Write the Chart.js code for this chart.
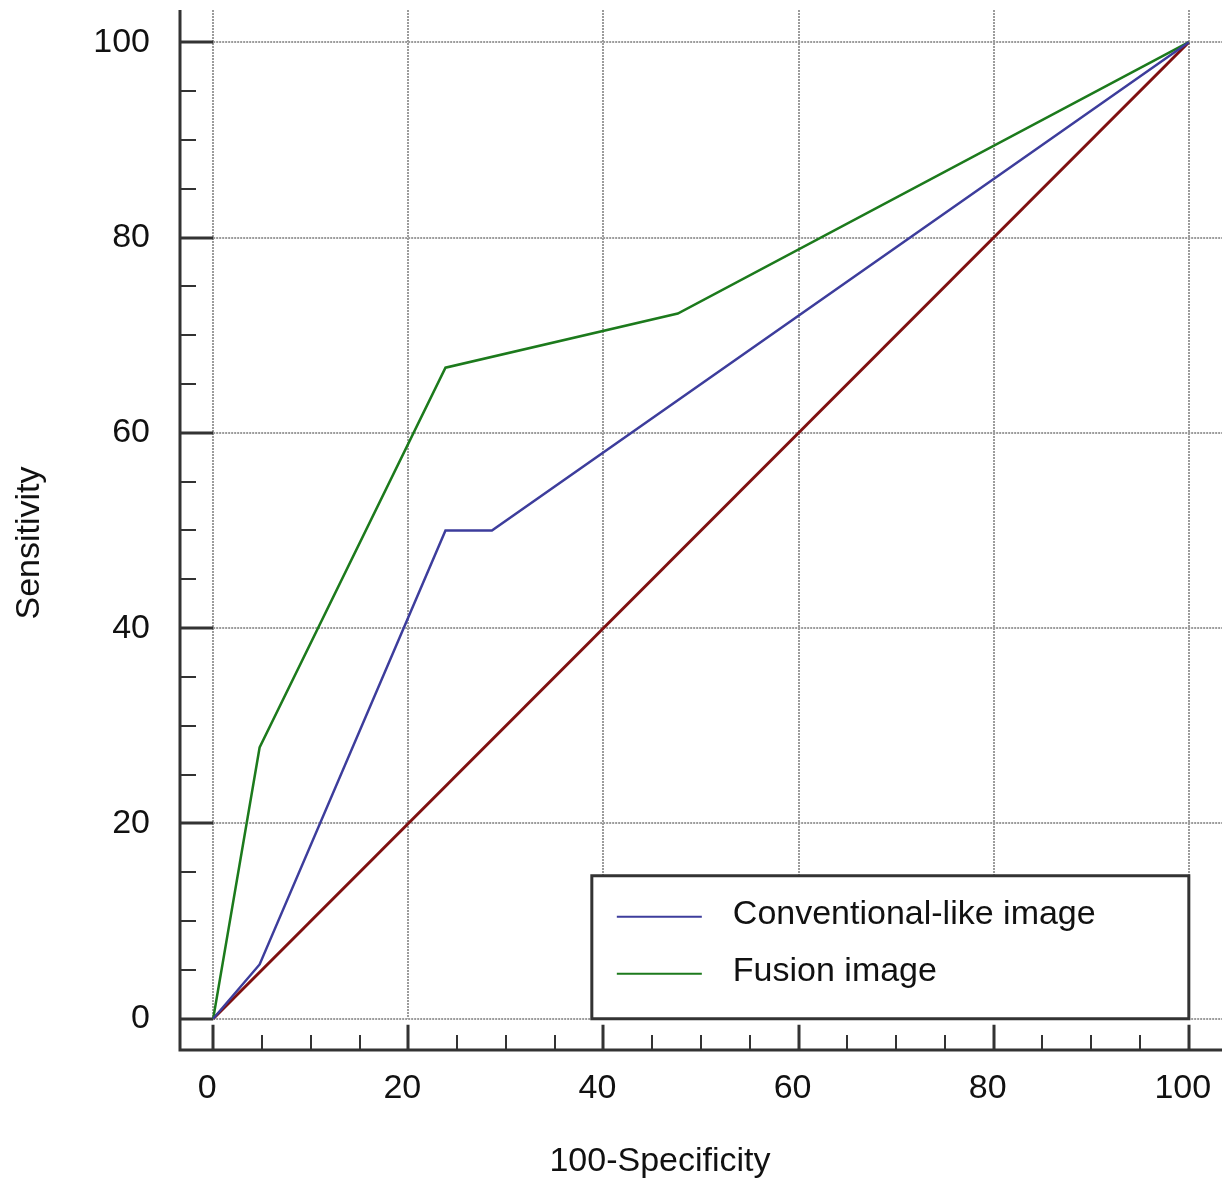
<!DOCTYPE html>
<html>
<head>
<meta charset="utf-8">
<script src="https://cdn.jsdelivr.net/npm/chart.js@4.4.1/dist/chart.umd.min.js"></script>
<style>
	body { margin: 0; background: #ffffff; }
	canvas { display: block; }
</style>
</head>
<body>
<canvas id="rocChart" width="1230" height="1179"></canvas>
<script>
// ROC points (21 negatives, 18 positives)
const conventionalX = [0, 4.76, 23.81, 28.57, 100];
const conventionalY = [0, 5.56, 50, 50, 100];
const fusionX = [0, 4.76, 23.81, 47.62, 100];
const fusionY = [0, 27.78, 66.67, 72.22, 100];
const referenceX = [0, 100];
const referenceY = [0, 100];
const tickValues = [0, 20, 40, 60, 80, 100];
const seriesLabels = ['Conventional-like image', 'Fusion image'];
const xTitle = '100-Specificity';
const yTitle = 'Sensitivity';

const FONT = "'Liberation Sans', Arial, Helvetica, sans-serif";

function toPoints(xs, ys) {
	return xs.map((x, i) => ({ x: x, y: ys[i] }));
}

// keep the plot area exactly where the original has it
function fixAxis(size) {
	return s => {
		if (s.isHorizontal()) {
			s.height = size;
		} else {
			s.width = size;
		}
		s.paddingTop = 0;
		s.paddingBottom = 0;
		s.paddingLeft = 0;
		s.paddingRight = 0;
	};
}

const rocAxesPlugin = {
	id: 'rocAxes',
	beforeDatasetsDraw(chart) {
		const ctx = chart.ctx;
		const xs = chart.scales.x;
		const ys = chart.scales.y;
		const area = chart.chartArea;
		const x0 = xs.getPixelForValue(0);
		const y0 = ys.getPixelForValue(0);

		ctx.save();
		// dotted grid, only over the 0..100 region
		ctx.strokeStyle = '#9c9c9c';
		ctx.lineWidth = 2;
		ctx.setLineDash([2, 1]);
		tickValues.forEach(v => {
			const px = Math.round(xs.getPixelForValue(v));
			ctx.beginPath();
			ctx.moveTo(px, area.top);
			ctx.lineTo(px, y0);
			ctx.stroke();
			const py = Math.round(ys.getPixelForValue(v));
			ctx.beginPath();
			ctx.moveTo(x0, py);
			ctx.lineTo(area.right, py);
			ctx.stroke();
		});
		ctx.setLineDash([]);

		// axis lines
		ctx.strokeStyle = '#333333';
		ctx.lineWidth = 3;
		ctx.beginPath();
		ctx.moveTo(area.left, area.top);
		ctx.lineTo(area.left, area.bottom);
		ctx.lineTo(area.right, area.bottom);
		ctx.stroke();

		// major + minor ticks
		for (let v = 0; v <= 100; v += 5) {
			const major = v % 20 === 0;
			const px = Math.round(xs.getPixelForValue(v));
			const py = Math.round(ys.getPixelForValue(v));
			ctx.lineWidth = major ? 3 : 2;
			ctx.beginPath();
			ctx.moveTo(px, area.bottom);
			ctx.lineTo(px, major ? y0 + 6 : area.bottom - 15);
			ctx.moveTo(area.left, py);
			ctx.lineTo(major ? x0 : area.left + 16, py);
			ctx.stroke();
		}
		ctx.restore();
	},
	afterDraw(chart) {
		const ctx = chart.ctx;
		const xs = chart.scales.x;
		const ys = chart.scales.y;

		// legend box in the lower right corner
		const boxRight = xs.getPixelForValue(100);
		const boxBottom = ys.getPixelForValue(0);
		const boxLeft = boxRight - 597;
		const boxTop = boxBottom - 143;

		ctx.save();
		ctx.fillStyle = '#ffffff';
		ctx.fillRect(boxLeft, boxTop, boxRight - boxLeft, boxBottom - boxTop);
		ctx.strokeStyle = '#333333';
		ctx.lineWidth = 3;
		ctx.strokeRect(boxLeft, boxTop, boxRight - boxLeft, boxBottom - boxTop);

		ctx.font = '34px ' + FONT;
		ctx.textAlign = 'left';
		ctx.textBaseline = 'middle';
		const items = chart.data.datasets.filter(d => d.inLegend);
		items.forEach((d, i) => {
			const rowY = boxTop + 41 + i * 57;
			ctx.strokeStyle = d.borderColor;
			ctx.lineWidth = 2;
			ctx.beginPath();
			ctx.moveTo(boxLeft + 25, rowY);
			ctx.lineTo(boxLeft + 110, rowY);
			ctx.stroke();
			ctx.fillStyle = '#111111';
			ctx.fillText(d.label, boxLeft + 141, rowY - 2);
		});

		// axis titles
		ctx.fillStyle = '#111111';
		ctx.textAlign = 'center';
		ctx.fillText(xTitle, 660, chart.height - 17);
		ctx.translate(30, 543);
		ctx.rotate(-Math.PI / 2);
		ctx.fillText(yTitle, 0, 0);
		ctx.restore();
	}
};

const tickFont = { family: FONT, size: 34 };

new Chart(document.getElementById('rocChart').getContext('2d'), {
	type: 'scatter',
	data: {
		datasets: [
			{
				label: seriesLabels[0],
				data: toPoints(conventionalX, conventionalY),
				borderColor: '#3d3d9c',
				borderWidth: 2.5,
				inLegend: true
			},
			{
				label: seriesLabels[1],
				data: toPoints(fusionX, fusionY),
				borderColor: '#1c7a1c',
				borderWidth: 2.5,
				inLegend: true
			},
			{
				label: 'Reference',
				data: toPoints(referenceX, referenceY),
				borderColor: '#7f1010',
				borderWidth: 3,
				inLegend: false
			}
		]
	},
	options: {
		responsive: false,
		animation: false,
		showLine: true,
		layout: { padding: { top: 10, right: 8, left: 0, bottom: 0 } },
		elements: {
			point: { radius: 0, hoverRadius: 0 },
			line: { tension: 0 }
		},
		scales: {
			x: {
				type: 'linear',
				min: -3.4,
				max: 103.4,
				grid: { display: false, drawTicks: false },
				border: { display: false },
				afterBuildTicks: s => { s.ticks = tickValues.map(v => ({ value: v })); },
				afterFit: fixAxis(129),
				ticks: {
					font: tickFont,
					color: '#111111',
					padding: 18,
					labelOffset: -6,
					maxRotation: 0,
					autoSkip: false
				}
			},
			y: {
				type: 'linear',
				min: -3.2,
				max: 103.3,
				grid: { display: false, drawTicks: false },
				border: { display: false },
				afterBuildTicks: s => { s.ticks = tickValues.map(v => ({ value: v })); },
				afterFit: fixAxis(180),
				ticks: {
					font: tickFont,
					color: '#111111',
					padding: 30,
					autoSkip: false
				}
			}
		},
		plugins: {
			legend: { display: false },
			tooltip: { enabled: false }
		}
	},
	plugins: [rocAxesPlugin]
});
</script>
</body>
</html>
